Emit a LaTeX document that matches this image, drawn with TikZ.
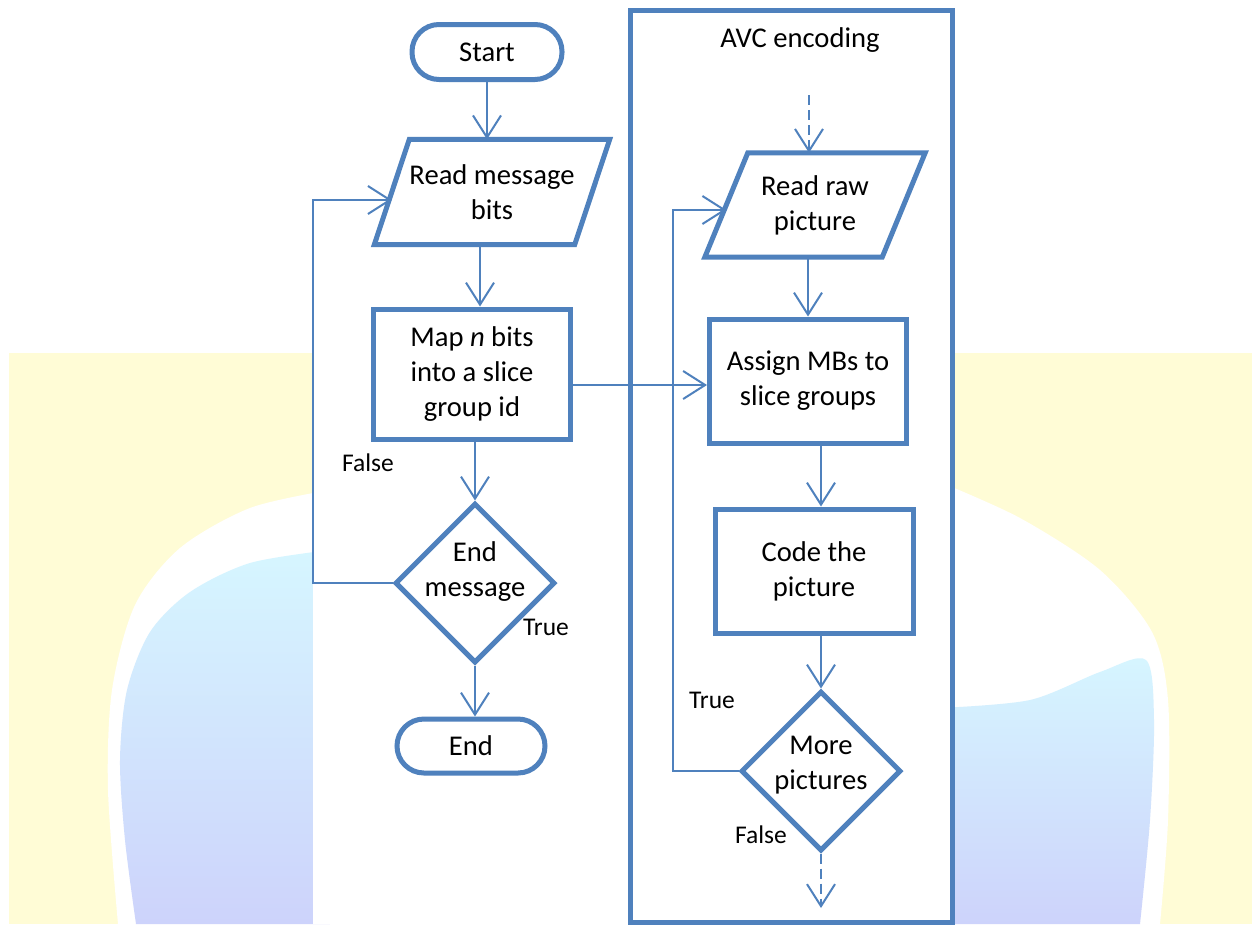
\documentclass[tikz,border=0pt]{standalone}
\usepackage{fontspec}
\setmainfont{Carlito}
\usetikzlibrary{arrows.meta,shapes.geometric,calc}
\definecolor{ob}{HTML}{4F81BD}
\definecolor{bandy}{HTML}{FFFCD6}
\definecolor{gtop}{HTML}{D6F6FF}
\definecolor{gbot}{HTML}{CDD3FB}
\newcommand\mainsz{\fontsize{28.6}{35}\selectfont}
\newcommand\lblsz{\fontsize{25.5}{30}\selectfont}
\tikzset{
  shapeline/.style={draw=ob, line width=5pt},
  termbox/.style={shapeline, rounded corners=27pt, minimum width=150pt, minimum height=55pt, inner sep=0pt, font=\mainsz},
  procbox/.style={shapeline, align=center, inner sep=0pt, font=\mainsz},
  iobox/.style={align=center, inner sep=0pt, font=\mainsz},
  decbox/.style={shapeline, diamond, aspect=1, minimum width=160pt, minimum height=160pt, inner sep=0pt},
  dectext/.style={align=center, inner sep=0pt, font=\mainsz},
  conn/.style={draw=ob, line width=2pt, -{Straight Barb[length=22pt,width=28pt]}},
  dconn/.style={conn, dash pattern=on 10pt off 5pt},
  lbl/.style={font=\lblsz, inner sep=0pt},
}
\begin{document}
\begin{tikzpicture}[x=1pt,y=-1pt]
\useasboundingbox (0,0) rectangle (1252,924);
% background decoration
\fill[white] (0,0) rectangle (1252,924);
\fill[bandy] (9,353) rectangle (1252,924);
\fill[white] plot[smooth] coordinates {(330,490) (250,508) (180,548) (135,605) (112,690) (108,790) (118,924)} -- (330,924) -- cycle;
\shade[top color=gtop, bottom color=gbot] plot[smooth] coordinates {(330,550) (250,563) (190,592) (150,632) (127,690) (120,760) (125,840) (136,924)} -- (330,924) -- cycle;
\fill[white] plot[smooth] coordinates {(940,482) (1020,518) (1100,570) (1152,632) (1168,700) (1168,820) (1160,924)} -- (940,924) -- cycle;
\shade[top color=gtop, bottom color=gbot] plot[smooth] coordinates {(940,708) (1030,700) (1100,672) (1146,660) (1154,720) (1150,820) (1140,924)} -- (940,924) -- cycle;
\fill[white] (313,0) rectangle (953,924);

% AVC container
\node[shapeline, minimum width=322pt, minimum height=912pt, inner sep=0pt] (avc) at (791,466) {};
\node[iobox] (avct) at (800,40) {AVC encoding};

% left column
\node[termbox] (start) at (487,52) {Start};
\node[iobox, minimum width=200pt, minimum height=105pt] (read) at (492,192) {Read message\\bits};
\draw[shapeline] ([xshift=17.5pt]read.north west) -- ([xshift=17.5pt]read.north east) -- ([xshift=-17.5pt]read.south east) -- ([xshift=-17.5pt]read.south west) -- cycle;
\node[procbox, minimum width=197pt, minimum height=130pt] (map) at (472,374) {Map \textit{n} bits\\into a slice\\group id};
\node[decbox] (endmsg) at (475,583) {};
\node[dectext] (endmsgt) at (475,572) {End\\message};
\node[termbox, minimum width=148pt, minimum height=54pt] (end) at (471,746) {End};

% right column
\node[iobox, minimum width=177pt, minimum height=104pt] (raw) at (815,205) {Read raw\\picture};
\draw[shapeline] ([xshift=21.5pt]raw.north west) -- ([xshift=21.5pt]raw.north east) -- ([xshift=-21.5pt]raw.south east) -- ([xshift=-21.5pt]raw.south west) -- cycle;
\node[procbox, minimum width=197pt, minimum height=124pt] (assign) at (808,381) {Assign MBs to\\slice groups};
\node[procbox, minimum width=198pt, minimum height=124pt] (code) at (814,571) {Code the\\picture};
\node[decbox] (more) at (821,771) {};
\node[dectext] (moret) at (821,765) {More\\pictures};

% labels
\node[lbl] (lf1) at (368,463) {False};
\node[lbl] (lt1) at (546,627) {True};
\node[lbl] (lt2) at (712,700) {True};
\node[lbl] (lf2) at (761,835) {False};

% helper coordinates
\coordinate (c1) at (480,0);
\coordinate (hy) at (0,385);
\coordinate (lx) at (313,0);
\coordinate (rx) at (673,0);
\coordinate (din) at (809,95);
\coordinate (dout) at (821,908);

% connectors
\draw[conn] (start.south) -- (start.south |- read.north);
\draw[conn] (c1 |- read.south) -- (c1 |- map.north);
\draw[conn] (endmsg.north |- map.south) -- (endmsg.north);
\draw[conn] (endmsg.south) -- (endmsg.south |- end.north);
\draw[conn] (endmsg.west) -- (lx |- endmsg.west) |- ([yshift=-8pt]read.west);
\draw[conn] (map.east |- hy) -- (assign.west |- hy);
\draw[dconn] (din) -- (din |- raw.north);
\draw[conn] (assign.north |- raw.south) -- (assign.north);
\draw[conn] (more.north |- assign.south) -- (more.north |- code.north);
\draw[conn] (more.north |- code.south) -- (more.north);
\draw[conn] (more.west) -- (rx |- more.west) |- ([yshift=-5pt]raw.west);
\draw[dconn] (more.south) -- (more.south |- dout);
\end{tikzpicture}
\end{document}
